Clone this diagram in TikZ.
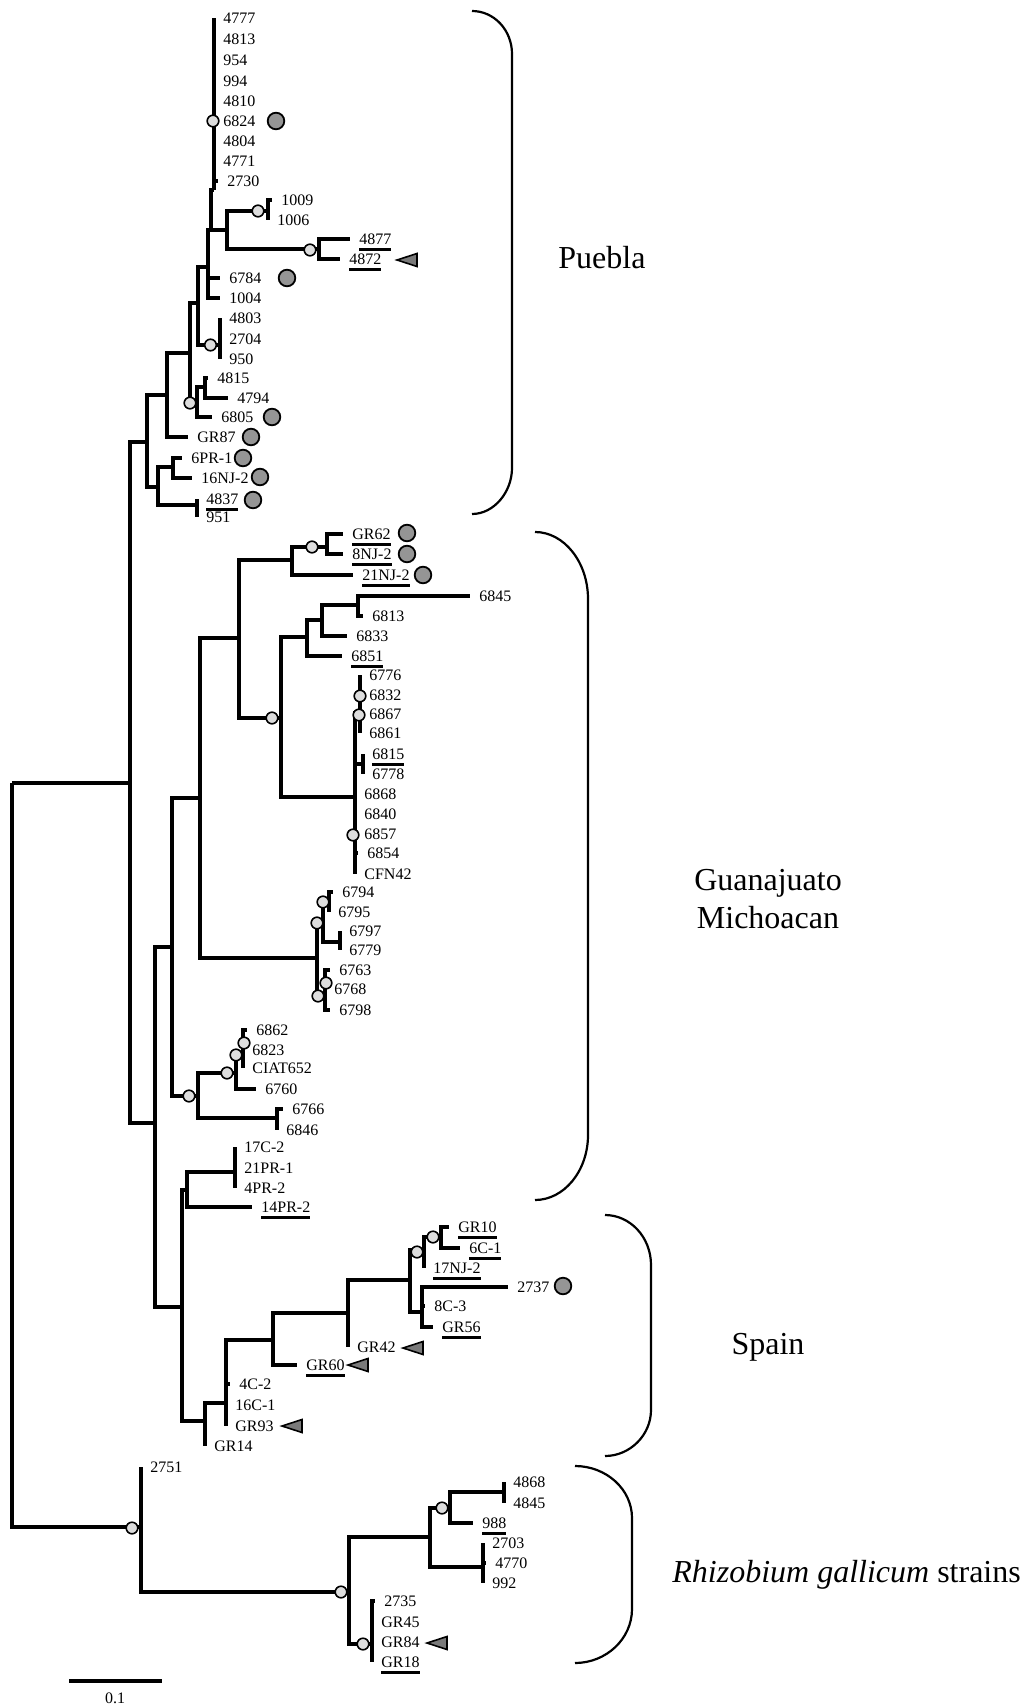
\documentclass[tikz,border=0pt]{standalone}
\usepackage{fontspec}
\setmainfont{Liberation Serif}
\usepackage{tikz}
\definecolor{dotgray}{HTML}{959595}
\definecolor{trigray}{HTML}{7A7A7A}
\definecolor{bootgray}{HTML}{DDDDDD}
\newcommand{\ulab}[1]{\setbox0=\hbox{#1}\rlap{\rule[-3.3pt]{\wd0}{1.6pt}}\box0}
\newcommand{\gtri}[2]{\draw[graytri] (#1,#2) -- ++(20,-6.5) -- ++(0,13) -- cycle;}
\tikzset{
  branch/.style={line width=1.6pt},
  leaf/.style={anchor=west,inner xsep=4.5pt,inner ysep=0pt,text height=5.4pt,text depth=0pt,font=\fontsize{8}{9.6}\selectfont},
  bootnode/.style={circle,draw,line width=0.8pt,fill=bootgray,inner sep=0pt,minimum size=5.8pt},
  graydot/.style={circle,draw,line width=0.9pt,fill=dotgray,inner sep=0pt,minimum size=8.3pt},
  graytri/.style={draw,line width=0.8pt,fill=trigray},
  bracket/.style={line width=1.1pt},
  region/.style={font=\fontsize{16}{19}\selectfont,inner sep=0pt}
}
\begin{document}
\begin{tikzpicture}[x=0.5pt,y=-0.5pt]
  \useasboundingbox (0,0) rectangle (1029,1707);
  % inner nodes of the tree
  \coordinate (nR) at (12,783);
  \coordinate (nA) at (130,783);
  \coordinate (nV) at (147,442);
  \coordinate (nU) at (167,395);
  \coordinate (nW) at (158,487);
  \coordinate (nX) at (173,467);
  \coordinate (nY) at (197,505);
  \coordinate (nPr) at (190,353);
  \coordinate (nQ) at (198,303);
  \coordinate (nS2) at (197,403);
  \coordinate (nS3) at (205,387);
  \coordinate (nT) at (220,345);
  \coordinate (nS) at (208,267);
  \coordinate (nP2) at (211,230);
  \coordinate (nP1) at (214,190);
  \coordinate (nG1) at (227,230);
  \coordinate (nH1) at (268,211);
  \coordinate (nH2) at (319,249);
  \coordinate (nM2) at (155,1123);
  \coordinate (nM3) at (172,947);
  \coordinate (nGM) at (200,798);
  \coordinate (nG2) at (239,638);
  \coordinate (nG3) at (292,560);
  \coordinate (nG4) at (327,547);
  \coordinate (nG5) at (281,718);
  \coordinate (nG6) at (307,637);
  \coordinate (nG7) at (322,620);
  \coordinate (nG7b) at (358,605);
  \coordinate (nG8) at (355,797);
  \coordinate (nG8a) at (360,713);
  \coordinate (nG8b) at (363,764);
  \coordinate (nG9) at (317,958);
  \coordinate (nG10) at (323,923);
  \coordinate (nG11) at (329,902);
  \coordinate (nG10b) at (340,942);
  \coordinate (nG12) at (325,996);
  \coordinate (nK1) at (198,1096);
  \coordinate (nK2) at (236,1073);
  \coordinate (nK4) at (243,1055);
  \coordinate (nK3) at (277,1118);
  \coordinate (nM4) at (182,1307);
  \coordinate (nJ1) at (187,1190);
  \coordinate (nJ2) at (235,1172);
  \coordinate (nSP0) at (205,1421);
  \coordinate (nSP1) at (226,1403);
  \coordinate (nSP2) at (273,1340);
  \coordinate (nSP3) at (348,1313);
  \coordinate (nSP4) at (410,1280);
  \coordinate (nSP6) at (424,1250);
  \coordinate (nSP7) at (441,1237);
  \coordinate (nSP5) at (422,1312);
  \coordinate (nRg) at (141,1527);
  \coordinate (nRg2) at (349,1592);
  \coordinate (nRg3) at (430,1537);
  \coordinate (nRg4) at (450,1508);
  \coordinate (nRg4b) at (504,1492);
  \coordinate (nRg5) at (483,1567);
  \coordinate (nRg6) at (372,1644);

  % strains
  \node[leaf] (l4777) at (214,18) {4777};
  \node[leaf] (l4813) at (214,39) {4813};
  \node[leaf] (l954) at (214,60) {954};
  \node[leaf] (l994) at (214,81) {994};
  \node[leaf] (l4810) at (214,101) {4810};
  \node[leaf] (l6824) at (214,121) {6824};
  \node[leaf] (l4804) at (214,141) {4804};
  \node[leaf] (l4771) at (214,161) {4771};
  \node[leaf] (l2730) at (218,181) {2730};
  \node[leaf] (l1009) at (272,200) {1009};
  \node[leaf] (l1006) at (268,220) {1006};
  \node[leaf] (l4877) at (350,239) {\ulab{4877}};
  \node[leaf] (l4872) at (340,259) {\ulab{4872}};
  \node[leaf] (l6784) at (220,278) {6784};
  \node[leaf] (l1004) at (220,298) {1004};
  \node[leaf] (l4803) at (220,318) {4803};
  \node[leaf] (l2704) at (220,339) {2704};
  \node[leaf] (l950) at (220,359) {950};
  \node[leaf] (l4815) at (208,378) {4815};
  \node[leaf] (l4794) at (228,398) {4794};
  \node[leaf] (l6805) at (212,417) {6805};
  \node[leaf] (lGR87) at (188,437) {GR87};
  \node[leaf] (l6PR1) at (182,458) {6PR-1};
  \node[leaf] (l16NJ2) at (192,478) {16NJ-2};
  \node[leaf] (l4837) at (197,499) {\ulab{4837}};
  \node[leaf] (l951) at (197,517) {951};
  \node[leaf] (lGR62) at (343,534) {\ulab{GR62}};
  \node[leaf] (l8NJ2) at (343,554) {\ulab{8NJ-2}};
  \node[leaf] (l21NJ2) at (353,575) {\ulab{21NJ-2}};
  \node[leaf] (l6845) at (470,596) {6845};
  \node[leaf] (l6813) at (363,616) {6813};
  \node[leaf] (l6833) at (347,636) {6833};
  \node[leaf] (l6851) at (342,656) {\ulab{6851}};
  \node[leaf] (l6776) at (360,675) {6776};
  \node[leaf] (l6832) at (360,695) {6832};
  \node[leaf] (l6867) at (360,714) {6867};
  \node[leaf] (l6861) at (360,733) {6861};
  \node[leaf] (l6815) at (363,754) {\ulab{6815}};
  \node[leaf] (l6778) at (363,774) {6778};
  \node[leaf] (l6868) at (355,794) {6868};
  \node[leaf] (l6840) at (355,814) {6840};
  \node[leaf] (l6857) at (355,834) {6857};
  \node[leaf] (l6854) at (358,853) {6854};
  \node[leaf] (lCFN42) at (355,874) {CFN42};
  \node[leaf] (l6794) at (333,892) {6794};
  \node[leaf] (l6795) at (329,912) {6795};
  \node[leaf] (l6797) at (340,931) {6797};
  \node[leaf] (l6779) at (340,950) {6779};
  \node[leaf] (l6763) at (330,970) {6763};
  \node[leaf] (l6768) at (325,989) {6768};
  \node[leaf] (l6798) at (330,1010) {6798};
  \node[leaf] (l6862) at (247,1030) {6862};
  \node[leaf] (l6823) at (243,1050) {6823};
  \node[leaf] (lCIAT652) at (243,1068) {CIAT652};
  \node[leaf] (l6760) at (256,1089) {6760};
  \node[leaf] (l6766) at (283,1109) {6766};
  \node[leaf] (l6846) at (277,1130) {6846};
  \node[leaf] (l17C2) at (235,1147) {17C-2};
  \node[leaf] (l21PR1) at (235,1168) {21PR-1};
  \node[leaf] (l4PR2) at (235,1188) {4PR-2};
  \node[leaf] (l14PR2) at (252,1207) {\ulab{14PR-2}};
  \node[leaf] (lGR10) at (449,1227) {\ulab{GR10}};
  \node[leaf] (l6C1) at (460,1248) {\ulab{6C-1}};
  \node[leaf] (l17NJ2) at (424,1268) {\ulab{17NJ-2}};
  \node[leaf] (l2737) at (508,1287) {2737};
  \node[leaf] (l8C3) at (425,1306) {8C-3};
  \node[leaf] (lGR56) at (433,1327) {\ulab{GR56}};
  \node[leaf] (lGR42) at (348,1347) {GR42};
  \node[leaf] (lGR60) at (297,1365) {\ulab{GR60}};
  \node[leaf] (l4C2) at (230,1384) {4C-2};
  \node[leaf] (l16C1) at (226,1405) {16C-1};
  \node[leaf] (lGR93) at (226,1426) {GR93};
  \node[leaf] (lGR14) at (205,1446) {GR14};
  \node[leaf] (l2751) at (141,1467) {2751};
  \node[leaf] (l4868) at (504,1482) {4868};
  \node[leaf] (l4845) at (504,1503) {4845};
  \node[leaf] (l988) at (473,1523) {\ulab{988}};
  \node[leaf] (l2703) at (483,1543) {2703};
  \node[leaf] (l4770) at (486,1563) {4770};
  \node[leaf] (l992) at (483,1583) {992};
  \node[leaf] (l2735) at (375,1601) {2735};
  \node[leaf] (lGR45) at (372,1622) {GR45};
  \node[leaf] (lGR84) at (372,1642) {GR84};
  \node[leaf] (lGR18) at (372,1662) {\ulab{GR18}};

  % branches
  \draw[branch] (nR) |- (nA) (nR) |- (nRg);
  \draw[branch] (nA) |- (nV) (nA) |- (nM2);
  \draw[branch] (nV) |- (nU) (nV) |- (nW);
  \draw[branch] (nU) |- (nPr) (nU) |- (lGR87.west);
  \draw[branch] (nW) |- (nX) (nW) |- (nY);
  \draw[branch] (nX) |- (l6PR1.west) (nX) |- (l16NJ2.west);
  \draw[branch] (nY) |- (l4837.west) (nY) |- (l951.west);
  \draw[branch] (nPr) |- (nQ) (nPr) |- (nS2);
  \draw[branch] (nS2) |- (nS3) (nS2) |- (l6805.west);
  \draw[branch] (nS3) |- (l4815.west) (nS3) |- (l4794.west);
  \draw[branch] (nQ) |- (nS) (nQ) |- (nT);
  \draw[branch] (nT) |- (l4803.west) (nT) |- (l2704.west) (nT) |- (l950.west);
  \draw[branch] (nS) |- (nP2) (nS) |- (l6784.west) (nS) |- (l1004.west);
  \draw[branch] (nP2) |- (nP1) (nP2) |- (nG1);
  \draw[branch] (nP1) |- (l4777.west) (nP1) |- (l4813.west) (nP1) |- (l954.west)
    (nP1) |- (l994.west) (nP1) |- (l4810.west) (nP1) |- (l6824.west)
    (nP1) |- (l4804.west) (nP1) |- (l4771.west) (nP1) |- (l2730.west);
  \draw[branch] (nG1) |- (nH1) (nG1) |- (nH2);
  \draw[branch] (nH1) |- (l1009.west) (nH1) |- (l1006.west);
  \draw[branch] (nH2) |- (l4877.west) (nH2) |- (l4872.west);
  \draw[branch] (nM2) |- (nM3) (nM2) |- (nM4);
  \draw[branch] (nM3) |- (nGM) (nM3) |- (nK1);
  \draw[branch] (nGM) |- (nG2) (nGM) |- (nG9);
  \draw[branch] (nG2) |- (nG3) (nG2) |- (nG5);
  \draw[branch] (nG3) |- (nG4) (nG3) |- (l21NJ2.west);
  \draw[branch] (nG4) |- (lGR62.west) (nG4) |- (l8NJ2.west);
  \draw[branch] (nG5) |- (nG6) (nG5) |- (nG8);
  \draw[branch] (nG6) |- (nG7) (nG6) |- (l6851.west);
  \draw[branch] (nG7) |- (nG7b) (nG7) |- (l6833.west);
  \draw[branch] (nG7b) |- (l6845.west) (nG7b) |- (l6813.west);
  \draw[branch] (nG8) |- (nG8a) (nG8) |- (nG8b) (nG8) |- (l6868.west) (nG8) |- (l6840.west)
    (nG8) |- (l6857.west) (nG8) |- (l6854.west) (nG8) |- (lCFN42.west);
  \draw[branch] (nG8a) |- (l6776.west) (nG8a) |- (l6832.west) (nG8a) |- (l6867.west) (nG8a) |- (l6861.west);
  \draw[branch] (nG8b) |- (l6815.west) (nG8b) |- (l6778.west);
  \draw[branch] (nG9) |- (nG10) (nG9) |- (nG12);
  \draw[branch] (nG10) |- (nG11) (nG10) |- (nG10b);
  \draw[branch] (nG11) |- (l6794.west) (nG11) |- (l6795.west);
  \draw[branch] (nG10b) |- (l6797.west) (nG10b) |- (l6779.west);
  \draw[branch] (nG12) |- (l6763.west) (nG12) |- (l6768.west) (nG12) |- (l6798.west);
  \draw[branch] (nK1) |- (nK2) (nK1) |- (nK3);
  \draw[branch] (nK2) |- (nK4) (nK2) |- (l6760.west);
  \draw[branch] (nK4) |- (l6862.west) (nK4) |- (l6823.west) (nK4) |- (lCIAT652.west);
  \draw[branch] (nK3) |- (l6766.west) (nK3) |- (l6846.west);
  \draw[branch] (nM4) |- (nJ1) (nM4) |- (nSP0);
  \draw[branch] (nJ1) |- (nJ2) (nJ1) |- (l14PR2.west);
  \draw[branch] (nJ2) |- (l17C2.west) (nJ2) |- (l21PR1.west) (nJ2) |- (l4PR2.west);
  \draw[branch] (nSP0) |- (nSP1) (nSP0) |- (lGR14.west);
  \draw[branch] (nSP1) |- (nSP2) (nSP1) |- (l4C2.west) (nSP1) |- (l16C1.west) (nSP1) |- (lGR93.west);
  \draw[branch] (nSP2) |- (nSP3) (nSP2) |- (lGR60.west);
  \draw[branch] (nSP3) |- (nSP4) (nSP3) |- (lGR42.west);
  \draw[branch] (nSP4) |- (nSP6) (nSP4) |- (nSP5);
  \draw[branch] (nSP6) |- (nSP7) (nSP6) |- (l17NJ2.west);
  \draw[branch] (nSP7) |- (lGR10.west) (nSP7) |- (l6C1.west);
  \draw[branch] (nSP5) |- (l2737.west) (nSP5) |- (l8C3.west) (nSP5) |- (lGR56.west);
  \draw[branch] (nRg) |- (l2751.west) (nRg) |- (nRg2);
  \draw[branch] (nRg2) |- (nRg3) (nRg2) |- (nRg6);
  \draw[branch] (nRg3) |- (nRg4) (nRg3) |- (nRg5);
  \draw[branch] (nRg4) |- (nRg4b) (nRg4) |- (l988.west);
  \draw[branch] (nRg4b) |- (l4868.west) (nRg4b) |- (l4845.west);
  \draw[branch] (nRg5) |- (l2703.west) (nRg5) |- (l4770.west) (nRg5) |- (l992.west);
  \draw[branch] (nRg6) |- (l2735.west) (nRg6) |- (lGR45.west) (nRg6) |- (lGR84.west) (nRg6) |- (lGR18.west);

  % bootstrap circles
  \node[bootnode] (b1) at (213,121) {};
  \node[bootnode] (b2) at (258,211) {};
  \node[bootnode] (b3) at (310,250) {};
  \node[bootnode] (b4) at (210.5,345) {};
  \node[bootnode] (b5) at (190,403) {};
  \node[bootnode] (b6) at (312,547) {};
  \node[bootnode] (b7) at (272,718) {};
  \node[bootnode] (b8) at (360,696) {};
  \node[bootnode] (b9) at (359,715) {};
  \node[bootnode] (b10) at (353,835) {};
  \node[bootnode] (b11) at (323,902) {};
  \node[bootnode] (b12) at (317,923) {};
  \node[bootnode] (b13) at (326,983) {};
  \node[bootnode] (b14) at (318,996) {};
  \node[bootnode] (b15) at (189,1096) {};
  \node[bootnode] (b16) at (227,1073) {};
  \node[bootnode] (b17) at (236,1055) {};
  \node[bootnode] (b18) at (244,1043) {};
  \node[bootnode] (b19) at (417,1252) {};
  \node[bootnode] (b20) at (433,1237) {};
  \node[bootnode] (b21) at (132,1528) {};
  \node[bootnode] (b22) at (341,1592) {};
  \node[bootnode] (b23) at (442,1508) {};
  \node[bootnode] (b24) at (363,1644) {};

  % markers
  \node[graydot] (d6824) at (276,121) {};
  \node[graydot] (d6784) at (287,278) {};
  \node[graydot] (d6805) at (272,417) {};
  \node[graydot] (dGR87) at (251,437) {};
  \node[graydot] (d6PR1) at (243,458) {};
  \node[graydot] (d16NJ2) at (260,477) {};
  \node[graydot] (d4837) at (253,500) {};
  \node[graydot] (dGR62) at (407,533) {};
  \node[graydot] (d8NJ2) at (407,554) {};
  \node[graydot] (d21NJ2) at (423,575) {};
  \node[graydot] (d2737) at (563,1286) {};
  \gtri{397}{260}
  \gtri{403}{1348}
  \gtri{348}{1365}
  \gtri{282}{1426}
  \gtri{427}{1643}

  % groups
  \draw[bracket] (472,11) .. controls (494,11) and (512,30) .. (512,54) -- (512,468)
    .. controls (512,492) and (494,514) .. (472,514);
  \draw[bracket] (535,532) .. controls (564,532) and (588,562) .. (588,599) -- (588,1135)
    .. controls (588,1171) and (564,1200) .. (535,1200);
  \draw[bracket] (605,1215) .. controls (630,1215) and (651,1237) .. (651,1265) -- (651,1410)
    .. controls (651,1435) and (630,1456) .. (605,1456);
  \draw[bracket] (575,1466) .. controls (606,1466) and (632,1489) .. (632,1518) -- (632,1609)
    .. controls (632,1639) and (606,1663) .. (575,1663);
  \node[region,anchor=base west] (puebla) at (558,268) {Puebla};
  \node[region,anchor=base] (guan) at (768,890) {Guanajuato};
  \node[region,anchor=base] (mich) at (768,928) {Michoacan};
  \node[region,anchor=base] (spain) at (768,1354) {Spain};
  \node[region,anchor=base west] (gallicum) at (672,1582) {\itshape Rhizobium gallicum\upshape{} strains};

  % scale
  \coordinate (sbl) at (69,1681);
  \coordinate (sbr) at (162,1681);
  \draw[branch] (sbl) -- (sbr);
  \node[leaf,anchor=center] (sblab) at (115,1698) {0.1};
\end{tikzpicture}
\end{document}
